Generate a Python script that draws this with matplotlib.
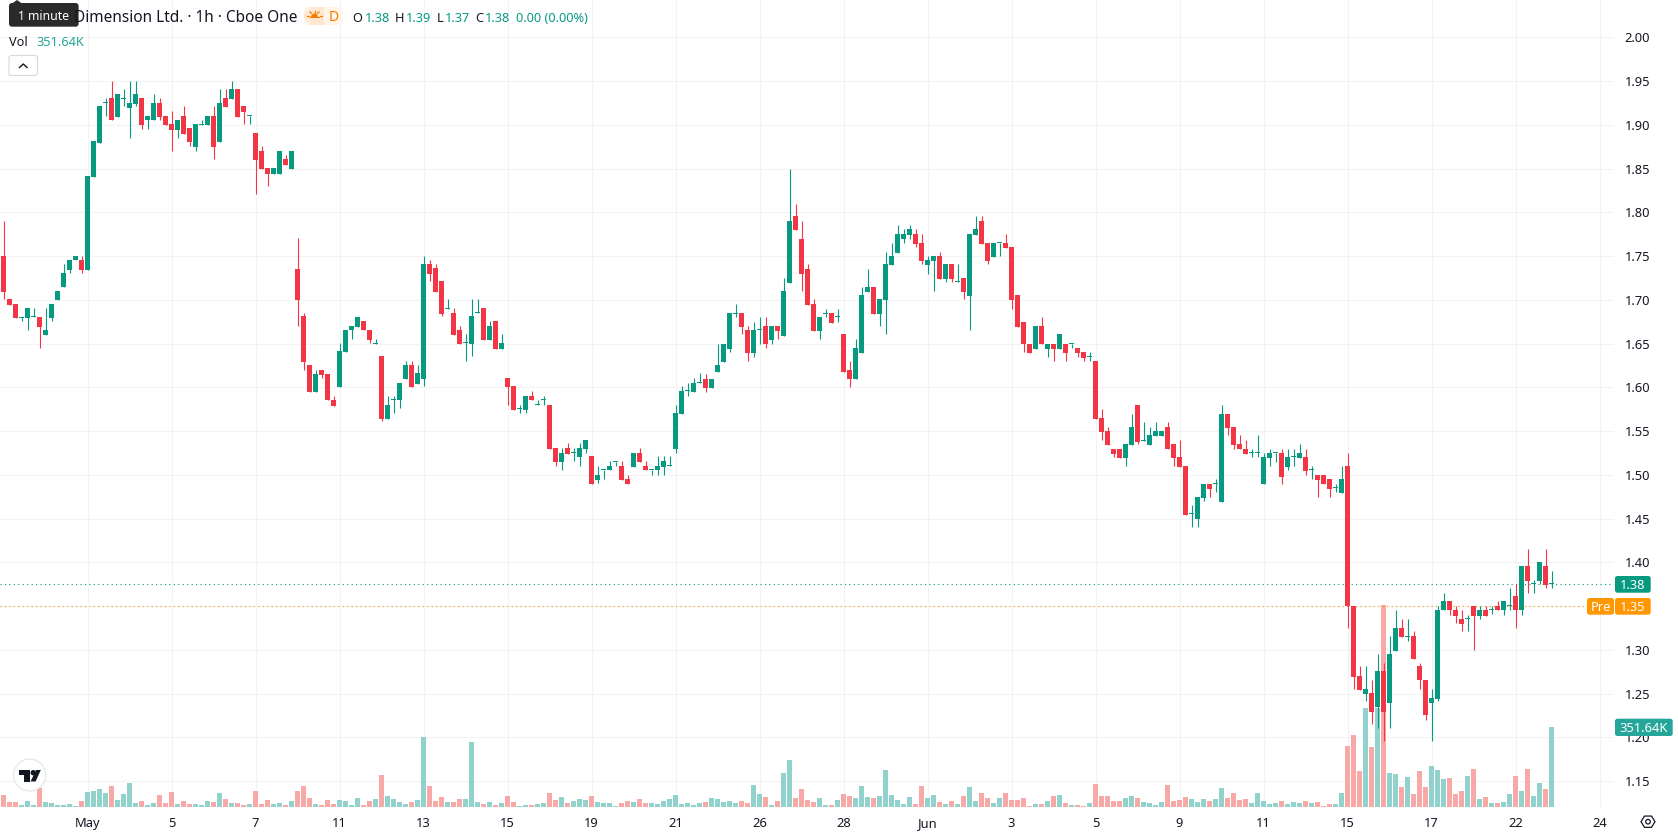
import matplotlib

matplotlib.use("Agg")
import matplotlib.pyplot as plt
import numpy as np
from matplotlib.patches import Circle, FancyBboxPatch, Polygon, Rectangle, Wedge

WIDTH = 1678
HEIGHT = 835
PANE_RIGHT = 1614
PANE_BOTTOM = 807

UP = "#089981"
DOWN = "#F23645"
VOL_UP = "#92D2CC"
VOL_DOWN = "#F7A9A7"
GRID = "#F2F3F5"
TEXT = "#131722"
ORANGE = "#FF9800"
VOL_BOX = "#26A69A"

LAST_PRICE = 1.375
PRE_PRICE = 1.35

opens = [
    1.750, 1.701, 1.695, 1.679, 1.679, 1.680, 1.680, 1.660, 1.679, 1.700,
    1.715, 1.734, 1.745, 1.746, 1.734, 1.840, 1.879, 1.925, 1.931, 1.909,
    1.930, 1.919, 1.924, 1.931, 1.905, 1.905, 1.925, 1.910, 1.901, 1.894,
    1.910, 1.896, 1.875, 1.900, 1.900, 1.910, 1.880, 1.931, 1.930, 1.941,
    1.921, 1.910, 1.891, 1.870, 1.851, 1.844, 1.844, 1.861, 1.850, 1.735,
    1.681, 1.626, 1.595, 1.620, 1.615, 1.586, 1.600, 1.640, 1.665, 1.669,
    1.676, 1.666, 1.650, 1.636, 1.564, 1.585, 1.585, 1.610, 1.626, 1.604,
    1.610, 1.741, 1.736, 1.721, 1.690, 1.685, 1.666, 1.651, 1.650, 1.685,
    1.691, 1.654, 1.676, 1.644, 1.611, 1.601, 1.575, 1.574, 1.590, 1.580,
    1.585, 1.580, 1.531, 1.515, 1.531, 1.525, 1.520, 1.530, 1.521, 1.494,
    1.505, 1.505, 1.515, 1.510, 1.495, 1.509, 1.525, 1.510, 1.505, 1.505,
    1.509, 1.510, 1.530, 1.570, 1.596, 1.595, 1.605, 1.610, 1.599, 1.618,
    1.629, 1.644, 1.684, 1.685, 1.665, 1.639, 1.665, 1.670, 1.654, 1.670,
    1.659, 1.719, 1.796, 1.770, 1.735, 1.695, 1.664, 1.684, 1.685, 1.680,
    1.661, 1.620, 1.609, 1.639, 1.709, 1.715, 1.684, 1.700, 1.740, 1.754,
    1.769, 1.774, 1.775, 1.765, 1.740, 1.744, 1.750, 1.724, 1.741, 1.720,
    1.725, 1.704, 1.774, 1.790, 1.765, 1.749, 1.765, 1.765, 1.760, 1.705,
    1.675, 1.650, 1.644, 1.670, 1.644, 1.650, 1.644, 1.650, 1.650, 1.645,
    1.640, 1.635, 1.630, 1.565, 1.550, 1.530, 1.530, 1.519, 1.534, 1.580,
    1.539, 1.534, 1.544, 1.544, 1.555, 1.535, 1.520, 1.510, 1.455, 1.449,
    1.474, 1.490, 1.490, 1.469, 1.570, 1.555, 1.535, 1.530, 1.525, 1.525,
    1.489, 1.519, 1.525, 1.525, 1.509, 1.520, 1.519, 1.520, 1.505, 1.500,
    1.500, 1.495, 1.485, 1.479, 1.510, 1.350, 1.270, 1.250, 1.251, 1.235,
    1.276, 1.239, 1.299, 1.325, 1.315, 1.316, 1.281, 1.266, 1.239, 1.244,
    1.345, 1.356, 1.346, 1.335, 1.335, 1.350, 1.339, 1.346, 1.345, 1.350,
    1.345, 1.350, 1.361, 1.345, 1.396, 1.375, 1.379, 1.396, 1.375,
]
highs = [
    1.790, 1.701, 1.695, 1.680, 1.691, 1.691, 1.680, 1.691, 1.695, 1.710,
    1.741, 1.746, 1.750, 1.750, 1.841, 1.881, 1.921, 1.931, 1.950, 1.935,
    1.941, 1.950, 1.950, 1.931, 1.910, 1.935, 1.931, 1.910, 1.916, 1.906,
    1.921, 1.896, 1.901, 1.906, 1.910, 1.921, 1.941, 1.941, 1.950, 1.941,
    1.921, 1.910, 1.891, 1.876, 1.851, 1.851, 1.870, 1.866, 1.870, 1.771,
    1.685, 1.626, 1.620, 1.620, 1.615, 1.590, 1.651, 1.666, 1.670, 1.680,
    1.676, 1.666, 1.655, 1.636, 1.590, 1.590, 1.605, 1.630, 1.630, 1.626,
    1.750, 1.746, 1.741, 1.721, 1.701, 1.691, 1.670, 1.661, 1.701, 1.701,
    1.691, 1.676, 1.676, 1.661, 1.611, 1.601, 1.580, 1.590, 1.596, 1.586,
    1.590, 1.580, 1.531, 1.531, 1.536, 1.531, 1.536, 1.540, 1.521, 1.510,
    1.505, 1.516, 1.515, 1.516, 1.500, 1.525, 1.531, 1.516, 1.505, 1.521,
    1.521, 1.521, 1.580, 1.601, 1.605, 1.611, 1.616, 1.615, 1.610, 1.650,
    1.650, 1.685, 1.695, 1.685, 1.670, 1.675, 1.680, 1.680, 1.670, 1.670,
    1.725, 1.850, 1.810, 1.790, 1.741, 1.701, 1.680, 1.690, 1.685, 1.690,
    1.661, 1.630, 1.655, 1.715, 1.735, 1.715, 1.701, 1.755, 1.765, 1.785,
    1.781, 1.785, 1.781, 1.775, 1.750, 1.750, 1.755, 1.741, 1.741, 1.741,
    1.725, 1.775, 1.796, 1.796, 1.765, 1.765, 1.765, 1.775, 1.760, 1.705,
    1.675, 1.650, 1.670, 1.680, 1.650, 1.650, 1.661, 1.650, 1.650, 1.645,
    1.640, 1.640, 1.630, 1.575, 1.555, 1.530, 1.530, 1.535, 1.570, 1.580,
    1.560, 1.555, 1.560, 1.550, 1.560, 1.535, 1.540, 1.510, 1.465, 1.475,
    1.490, 1.490, 1.495, 1.580, 1.570, 1.555, 1.545, 1.540, 1.530, 1.545,
    1.525, 1.530, 1.525, 1.530, 1.530, 1.530, 1.535, 1.530, 1.510, 1.500,
    1.500, 1.495, 1.490, 1.510, 1.525, 1.350, 1.281, 1.281, 1.266, 1.295,
    1.285, 1.316, 1.346, 1.335, 1.335, 1.321, 1.285, 1.266, 1.255, 1.350,
    1.365, 1.356, 1.350, 1.346, 1.340, 1.350, 1.350, 1.350, 1.350, 1.356,
    1.356, 1.371, 1.375, 1.396, 1.415, 1.380, 1.400, 1.415, 1.390,
]
lows = [
    1.701, 1.694, 1.679, 1.676, 1.666, 1.680, 1.645, 1.660, 1.676, 1.700,
    1.715, 1.731, 1.745, 1.731, 1.734, 1.840, 1.879, 1.910, 1.905, 1.909,
    1.921, 1.885, 1.921, 1.895, 1.895, 1.905, 1.906, 1.900, 1.870, 1.885,
    1.890, 1.876, 1.870, 1.900, 1.900, 1.861, 1.880, 1.920, 1.930, 1.909,
    1.901, 1.901, 1.821, 1.850, 1.830, 1.844, 1.844, 1.854, 1.850, 1.670,
    1.620, 1.595, 1.595, 1.611, 1.585, 1.579, 1.600, 1.640, 1.655, 1.669,
    1.665, 1.651, 1.650, 1.561, 1.564, 1.571, 1.576, 1.610, 1.600, 1.604,
    1.601, 1.721, 1.709, 1.681, 1.690, 1.660, 1.650, 1.630, 1.636, 1.685,
    1.654, 1.654, 1.644, 1.644, 1.580, 1.574, 1.571, 1.571, 1.585, 1.580,
    1.580, 1.530, 1.510, 1.506, 1.524, 1.516, 1.510, 1.525, 1.490, 1.491,
    1.495, 1.505, 1.510, 1.494, 1.490, 1.509, 1.515, 1.505, 1.500, 1.500,
    1.500, 1.510, 1.525, 1.570, 1.590, 1.595, 1.605, 1.595, 1.599, 1.618,
    1.629, 1.640, 1.680, 1.661, 1.630, 1.635, 1.650, 1.645, 1.650, 1.655,
    1.659, 1.719, 1.780, 1.710, 1.694, 1.664, 1.655, 1.680, 1.674, 1.675,
    1.618, 1.600, 1.609, 1.639, 1.709, 1.684, 1.670, 1.661, 1.740, 1.754,
    1.765, 1.770, 1.760, 1.741, 1.730, 1.710, 1.724, 1.720, 1.720, 1.720,
    1.701, 1.665, 1.774, 1.764, 1.741, 1.749, 1.750, 1.759, 1.690, 1.669,
    1.640, 1.639, 1.644, 1.649, 1.635, 1.630, 1.644, 1.630, 1.645, 1.635,
    1.630, 1.630, 1.564, 1.540, 1.534, 1.520, 1.519, 1.510, 1.534, 1.535,
    1.539, 1.534, 1.544, 1.544, 1.529, 1.510, 1.509, 1.454, 1.440, 1.440,
    1.470, 1.475, 1.480, 1.469, 1.545, 1.530, 1.529, 1.524, 1.520, 1.520,
    1.489, 1.510, 1.515, 1.490, 1.505, 1.510, 1.519, 1.500, 1.495, 1.475,
    1.489, 1.475, 1.480, 1.479, 1.325, 1.255, 1.254, 1.241, 1.215, 1.211,
    1.196, 1.211, 1.299, 1.315, 1.310, 1.290, 1.255, 1.220, 1.196, 1.241,
    1.345, 1.340, 1.331, 1.321, 1.321, 1.300, 1.335, 1.339, 1.341, 1.345,
    1.340, 1.346, 1.325, 1.340, 1.365, 1.365, 1.375, 1.371, 1.371,
]
closes = [
    1.709, 1.694, 1.679, 1.680, 1.691, 1.680, 1.669, 1.666, 1.695, 1.710,
    1.731, 1.746, 1.750, 1.734, 1.841, 1.881, 1.921, 1.925, 1.905, 1.935,
    1.930, 1.925, 1.935, 1.900, 1.910, 1.925, 1.909, 1.900, 1.894, 1.906,
    1.890, 1.880, 1.901, 1.900, 1.910, 1.875, 1.925, 1.920, 1.941, 1.909,
    1.915, 1.910, 1.860, 1.850, 1.844, 1.851, 1.870, 1.854, 1.870, 1.700,
    1.629, 1.595, 1.615, 1.614, 1.585, 1.579, 1.641, 1.666, 1.670, 1.680,
    1.665, 1.654, 1.650, 1.564, 1.580, 1.585, 1.605, 1.626, 1.600, 1.616,
    1.741, 1.730, 1.709, 1.684, 1.690, 1.660, 1.650, 1.651, 1.681, 1.685,
    1.654, 1.670, 1.644, 1.651, 1.600, 1.574, 1.575, 1.590, 1.585, 1.580,
    1.585, 1.530, 1.515, 1.525, 1.524, 1.525, 1.531, 1.540, 1.490, 1.500,
    1.505, 1.510, 1.515, 1.494, 1.490, 1.525, 1.515, 1.505, 1.505, 1.510,
    1.516, 1.510, 1.571, 1.596, 1.596, 1.605, 1.605, 1.599, 1.610, 1.625,
    1.650, 1.685, 1.684, 1.669, 1.639, 1.665, 1.665, 1.649, 1.670, 1.664,
    1.710, 1.790, 1.780, 1.729, 1.694, 1.664, 1.680, 1.684, 1.674, 1.680,
    1.618, 1.609, 1.645, 1.705, 1.715, 1.684, 1.701, 1.741, 1.750, 1.775,
    1.775, 1.781, 1.764, 1.744, 1.745, 1.750, 1.724, 1.741, 1.724, 1.720,
    1.709, 1.775, 1.781, 1.764, 1.744, 1.765, 1.765, 1.759, 1.700, 1.669,
    1.649, 1.639, 1.670, 1.649, 1.650, 1.644, 1.661, 1.639, 1.650, 1.639,
    1.634, 1.635, 1.564, 1.549, 1.534, 1.524, 1.519, 1.535, 1.555, 1.538,
    1.539, 1.545, 1.550, 1.550, 1.529, 1.519, 1.509, 1.454, 1.455, 1.475,
    1.490, 1.484, 1.490, 1.570, 1.554, 1.534, 1.529, 1.524, 1.525, 1.525,
    1.520, 1.525, 1.525, 1.498, 1.520, 1.520, 1.525, 1.504, 1.505, 1.494,
    1.489, 1.484, 1.485, 1.495, 1.350, 1.269, 1.254, 1.255, 1.229, 1.276,
    1.229, 1.295, 1.325, 1.315, 1.315, 1.290, 1.265, 1.225, 1.245, 1.346,
    1.356, 1.345, 1.339, 1.330, 1.335, 1.339, 1.346, 1.339, 1.345, 1.345,
    1.356, 1.350, 1.345, 1.396, 1.379, 1.375, 1.400, 1.374, 1.375,
]
# traded volume per bar, in thousands of shares
volumes = [
    53, 22, 22, 9, 26, 9, 84, 22, 18, 9, 9, 13, 4, 26, 66, 70, 79, 62, 92, 31,
    57, 105, 18, 26, 9, 18, 53, 18, 66, 13, 26, 13, 13, 9, 26, 22, 62, 35, 18, 18,
    9, 13, 70, 13, 31, 13, 18, 9, 26, 70, 92, 40, 13, 9, 31, 13, 31, 26, 9, 40,
    9, 26, 35, 141, 48, 35, 22, 13, 22, 31, 309, 92, 26, 44, 22, 22, 35, 35, 286, 22,
    13, 22, 9, 18, 48, 22, 4, 9, 9, 13, 18, 62, 31, 44, 18, 26, 35, 31, 48, 22,
    18, 18, 4, 18, 26, 22, 35, 18, 18, 13, 26, 35, 53, 13, 18, 9, 18, 22, 40, 35,
    22, 26, 18, 26, 18, 97, 57, 44, 9, 26, 149, 207, 40, 79, 31, 22, 40, 9, 9, 31,
    57, 48, 40, 92, 44, 40, 48, 163, 53, 31, 13, 44, 13, 92, 40, 53, 22, 13, 26, 13,
    48, 88, 26, 62, 40, 18, 40, 62, 31, 31, 40, 4, 13, 13, 26, 48, 53, 18, 9, 9,
    4, 18, 101, 48, 48, 26, 26, 40, 48, 40, 22, 18, 9, 22, 97, 26, 31, 44, 35, 22,
    35, 26, 35, 84, 40, 62, 31, 35, 18, 62, 26, 13, 18, 26, 13, 22, 18, 26, 18, 22,
    4, 13, 13, 62, 268, 316, 158, 435, 264, 435, 888, 149, 145, 88, 132, 57, 158, 88, 180, 163,
    123, 127, 57, 70, 136, 167, 35, 44, 18, 18, 22, 57, 136, 70, 167, 48, 105, 79, 351.64,
]
price_ticks = [1.15, 1.20, 1.25, 1.30, 1.35, 1.40, 1.45, 1.50, 1.55, 1.60,
               1.65, 1.70, 1.75, 1.80, 1.85, 1.90, 1.95, 2.00]
time_ticks = [14, 28, 42, 56, 70, 84, 98, 112, 126, 140,
              154, 168, 182, 196, 210, 224, 238, 252, 266]
time_labels = ["May", "5", "7", "11", "13", "15", "19", "21", "26", "28",
               "Jun", "3", "5", "9", "11", "15", "17", "22", "24"]

plt.rcParams["font.family"] = ["Noto Sans", "DejaVu Sans"]

fig = plt.figure(figsize=(WIDTH / 100, HEIGHT / 100), dpi=100)
ax = fig.add_axes([0, 1 - PANE_BOTTOM / HEIGHT, PANE_RIGHT / WIDTH, PANE_BOTTOM / HEIGHT])

# one bar is 6 px wide, bar 0 sits at 3.5 px
ax.set_xlim(-3.5 / 6, (PANE_RIGHT - 3.5) / 6)
ax.set_ylim(2 - (PANE_BOTTOM - 37.3) / 875, 2 + 37.3 / 875)
for side in ax.spines.values():
    side.set_visible(False)

o = np.array(opens)
h = np.array(highs)
l = np.array(lows)
c = np.array(closes)
idx = np.arange(len(o))
rising = c >= o
candle_colors = np.where(rising, UP, DOWN)

ax.set_axisbelow(True)
ax.grid(True, color=GRID, linewidth=0.8)

# the volume pane shares the price axes, scaled to the axes height
vol_top = 3547.0
ax.bar(idx, np.array(volumes) / vol_top, width=0.82, bottom=0,
       color=np.where(rising, VOL_UP, VOL_DOWN), linewidth=0,
       transform=ax.get_xaxis_transform(), zorder=2)

ax.axhline(LAST_PRICE, color=UP, linewidth=0.8, linestyle=(0, (1, 3)), zorder=2.5)
ax.axhline(PRE_PRICE, color=ORANGE, linewidth=0.8, linestyle=(0, (1, 3)), zorder=2.5)

ax.vlines(idx, l, h, colors=candle_colors, linewidth=0.8, zorder=3)
min_body = 1.0 / 875
ax.bar(idx, np.maximum(np.abs(c - o), min_body), bottom=np.minimum(o, c), width=0.84,
       color=candle_colors, linewidth=0, zorder=4)

# the 1.35 slot on the scale is taken by the pre-market tag
ax.yaxis.tick_right()
ax.set_yticks(price_ticks)
ax.set_yticklabels(["" if p == 1.35 else f"{p:.2f}" for p in price_ticks])
ax.set_xticks(time_ticks)
ax.set_xticklabels(time_labels)
ax.tick_params(axis="both", length=0, labelsize=9.3, labelcolor=TEXT)
ax.tick_params(axis="y", pad=7.5)
ax.tick_params(axis="x", pad=7)
for tick_label in ax.get_xticklabels():
    if tick_label.get_text() in ("May", "Jun"):
        tick_label.set_fontweight("bold")

# header, price labels and logo are placed in pixel coordinates
over = fig.add_axes([0, 0, 1, 1], zorder=5)
over.set_xlim(0, WIDTH)
over.set_ylim(HEIGHT, 0)
over.axis("off")


def round_box(x0, y0, x1, y1, color, edge="none", radius=2.5):
    over.add_patch(FancyBboxPatch((x0 + radius, y0 + radius), x1 - x0 - 2 * radius, y1 - y0 - 2 * radius,
                                  boxstyle=f"round,pad={radius},rounding_size={radius}",
                                  facecolor=color, edgecolor=edge, linewidth=0.8))


def label(x, y, text, color=TEXT, size=9, ha="left", **kwargs):
    over.text(x, y, text, color=color, fontsize=size, ha=ha, va="center_baseline", **kwargs)


# symbol line
label(74, 16.5, "Dimension Ltd. · 1h · Cboe One", size=11.1)
round_box(9, 3, 78.6, 26.7, "#2A2A2A", radius=3)
over.add_patch(Polygon([(12, 3.5), (17, 0), (22, 3.5)], facecolor="#2A2A2A", edgecolor="none"))
label(43.5, 15.5, "1 minute", color="white", size=8.8, ha="center")

# pre-market badge with its sun icon
round_box(304, 7, 343, 25, "#FFF4E8", radius=6)
over.add_patch(FancyBboxPatch((310, 7), 14, 18, boxstyle="square,pad=0", facecolor="#FFE8CF", edgecolor="none"))
over.add_patch(Wedge((304 + 6, 16), 6, 90, 270, facecolor="#FFE8CF", edgecolor="none"))
over.add_patch(Wedge((314.5, 17), 3.4, 180, 360, facecolor="#F57C00", edgecolor="none"))
over.add_patch(Rectangle((309.5, 17), 10, 1.2, facecolor="#F57C00", edgecolor="none"))
for x0, y0, x1, y1 in [(314.5, 10.5, 314.5, 12.5), (310, 12, 311.3, 13.3), (319, 12, 317.7, 13.3),
                       (307, 16, 309, 16), (320, 16, 322, 16)]:
    over.plot([x0, x1], [y0, y1], color="#F57C00", linewidth=0.9)
label(333.5, 15.5, "D", color="#F57C00", size=10, ha="center", fontweight="medium")

# OHLC readout, each value starts right after its letter
for x, name, vx, value in [(352.7, "O", 365, "1.38"), (395, "H", 406, "1.39"),
                           (436.7, "L", 445, "1.37"), (475.7, "C", 485, "1.38")]:
    label(x, 16.5, name, size=9.2)
    label(vx, 16.5, value, color=UP, size=9.2)
label(516, 16.5, "0.00 (0.00%)", color=UP, size=9.2)

label(9, 40.5, "Vol", size=9.2)
label(36.5, 40.5, "351.64K", color=VOL_BOX, size=9.2)

# collapse button
round_box(9, 55.5, 37.5, 75.5, "white", edge="#D6D8DE", radius=2.5)
over.plot([19.5, 23.3, 27], [67.5, 64, 67.5], color=TEXT, linewidth=1.0)

# last price, pre-market and volume tags on the scale
tag_y = 584.3
round_box(1615, 576, 1650.7, 592.7, UP)
label(1633, tag_y, "1.38", color="white", size=9.3, ha="center")
round_box(1587, 598, 1614, 614.7, ORANGE)
label(1600.5, 606, "Pre", color="white", size=9.3, ha="center")
round_box(1615, 598, 1650.7, 614.7, ORANGE)
label(1633, 606, "1.35", color="white", size=9.3, ha="center")
round_box(1615, 718.7, 1672.7, 736, VOL_BOX)
label(1644, 727, "351.64K", color="white", size=9.3, ha="center")

# chart logo
over.add_patch(Circle((29.6, 775), 16, facecolor="white", edgecolor="#E6E7EB", linewidth=0.9))
over.add_patch(Polygon([(18.6, 770), (30, 770), (30, 781.5), (24.4, 781.5), (24.4, 775.4), (18.6, 775.4)],
                       facecolor="#131722", edgecolor="none"))
over.add_patch(Circle((33.2, 772.7), 2.7, facecolor="#131722", edgecolor="none"))
over.add_patch(Polygon([(36, 770), (40.8, 770), (35.6, 781.5), (30.6, 781.5)],
                       facecolor="#131722", edgecolor="none"))

# scale settings icon
hex_angles = np.deg2rad(np.arange(0, 360, 60))
over.add_patch(Polygon(np.column_stack((1648 + 7 * np.cos(hex_angles), 821.7 + 6.5 * np.sin(hex_angles))),
                       closed=True, facecolor="none", edgecolor=TEXT, linewidth=0.9))
over.add_patch(Circle((1648, 821.7), 2.3, facecolor="none", edgecolor=TEXT, linewidth=0.9))

fig.savefig("out.png", dpi=100)
